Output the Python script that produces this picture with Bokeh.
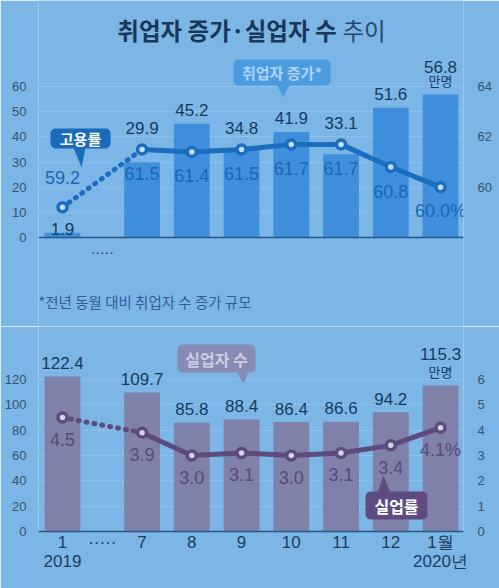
from bokeh.plotting import figure
from bokeh.layouts import column
from bokeh.models import Range1d, LinearAxis, FixedTicker, Span
from bokeh.core.properties import value
from bokeh.embed import file_html
from bokeh.resources import INLINE

# ---- data -------------------------------------------------------------
months = ["1", "7", "8", "9", "10", "11", "12", "1월"]
years = ["2019", "", "", "", "", "", "", "2020년"]
emp_increase = [1.9, 29.9, 45.2, 34.8, 41.9, 33.1, 51.6, 56.8]    # 만명
emp_rate = [59.2, 61.5, 61.4, 61.5, 61.7, 61.7, 60.8, 60.0]        # %
unemployed = [122.4, 109.7, 85.8, 88.4, 86.4, 86.6, 94.2, 115.3]   # 만명
unemp_rate = [4.5, 3.9, 3.0, 3.1, 3.0, 3.1, 3.4, 4.1]              # %

top_left_ticks = [0, 10, 20, 30, 40, 50, 60]
top_right_ticks = [60, 62, 64]
bottom_left_ticks = [0, 20, 40, 60, 80, 100, 120]
bottom_right_ticks = [0, 1, 2, 3, 4, 5, 6]

title_main = "취업자 증가·실업자 수"
title_tail = "추이"
footnote = "*전년 동월 대비 취업자 수 증가 규모"
unit = "만명"
break_mark = "·····"

# ---- style ------------------------------------------------------------
BG = "#7bb6e6"
BAR_TOP = "#3f8fdc"
LINE_TOP = "#1b6dbf"
FILL_TOP = "#c4def5"
LAB_TOP = "#1a67b4"
BAR_BOT = "#7f81a8"
LINE_BOT = "#5d4b7e"
FILL_BOT = "#d3d2ea"
LAB_BOT = "#584a7c"
BAR_LAB = "#163a5f"
GRID = "#a2cdf0"
TICK_LAB = "#34546f"
NUM = "Liberation Sans, Arial, sans-serif"
KR = "Noto Sans CJK KR"

# ---- geometry ---------------------------------------------------------
W = 499
TOP_H = 326
BOT_H = 262
FRAME_L, FRAME_R = 38, 463
STEP_PX = 49.74          # px between neighbouring months
X0_PX = 62               # px of the first month
GAP = 1.6                # wider step across the "·····" break
xs = [0.0] + [round(GAP + i, 1) for i in range(len(months) - 1)]
gap_x = round(GAP / 2, 1)
x_start = -(X0_PX - FRAME_L) / STEP_PX
x_end = (FRAME_R - X0_PX) / STEP_PX

BASE_TOP = 237           # px of the zero line, upper chart
K1 = 151 / 60            # px per 만명, upper chart
BASE_BOT = 531           # px of the zero line, lower chart (page coords)
K2 = 152 / 120           # px per 만명, lower chart


def tx(px):
    return (px - X0_PX) / STEP_PX


def ty(py):
    return (BASE_TOP - py) / K1


def by(py):
    return (BASE_BOT - py) / K2


def style_axis(ax, size):
    ax.axis_line_color = None
    ax.major_tick_line_color = None
    ax.minor_tick_line_color = None
    ax.major_label_text_color = TICK_LAB
    ax.major_label_text_font = NUM
    ax.major_label_text_font_size = size


def callout(p, fx, fy, box, tri, text, fill, color, size):
    x0, y0, x1, y1 = box
    p.quad(left=[fx(x0)], right=[fx(x1)], top=[fy(y0)], bottom=[fy(y1)],
           fill_color=fill, line_color=None, border_radius=5)
    p.patch([fx(a) for a, b in tri], [fy(b) for a, b in tri],
            fill_color=fill, line_color=None)
    p.text(x=[fx((x0 + x1) / 2)], y=[fy((y0 + y1) / 2)], text=[text],
           text_font=value(KR), text_font_style="bold", text_font_size=size,
           text_color=color, text_align="center", text_baseline="middle")


# ---- upper chart: employment increase + employment rate ---------------
rate_lo = 58 + ty(TOP_H) / 10
rate_hi = 58 + ty(0) / 10

top = figure(width=W, height=TOP_H, x_range=Range1d(x_start, x_end),
             y_range=Range1d(ty(TOP_H), ty(0)), x_axis_location=None,
             toolbar_location=None, output_backend="svg",
             min_border_left=FRAME_L, min_border_right=W - FRAME_R,
             min_border_top=0, min_border_bottom=0,
             background_fill_color=BG, border_fill_color=BG,
             outline_line_color=None)
top.extra_y_ranges = {"rate": Range1d(rate_lo, rate_hi)}
top.yaxis.ticker = FixedTicker(ticks=top_left_ticks)
style_axis(top.yaxis[0], "13px")
top.yaxis.major_label_standoff = 6
right_top = LinearAxis(y_range_name="rate", ticker=FixedTicker(ticks=top_right_ticks))
style_axis(right_top, "13px")
right_top.major_label_standoff = 8
top.add_layout(right_top, "right")
top.xgrid.visible = False
top.ygrid.ticker = FixedTicker(ticks=top_left_ticks[1:])
top.ygrid.grid_line_color = GRID
top.ygrid.grid_line_dash = "2 2"
top.ygrid.grid_line_width = 1

top.vbar(x=xs, top=emp_increase, width=0.72, fill_color=BAR_TOP, line_color=None)
top.add_layout(Span(location=0, dimension="width", line_color="#27568a", line_width=1.5))

top.line(xs[:2], emp_rate[:2], y_range_name="rate", line_color=LINE_TOP,
         line_width=5, line_dash="1 7", line_cap="round")
top.line(xs[1:], emp_rate[1:], y_range_name="rate", line_color=LINE_TOP,
         line_width=5, line_join="round")
top.scatter(xs, emp_rate, y_range_name="rate", size=9, fill_color=FILL_TOP,
            line_color=LINE_TOP, line_width=3.5)

last = len(xs) - 1
bar_y, line_y = [], []
for i, (v, r) in enumerate(zip(emp_increase, emp_rate)):
    m = (r - 58) * 10
    if i == 0:
        bar_y.append(v + 4 / K1)
        line_y.append(m + 30 / K1)
    elif i == last:
        bar_y.append(v + 28 / K1)
        line_y.append(m - 24 / K1)
    else:
        bar_y.append(max(v + 14 / K1, m + 21 / K1))
        line_y.append(m - 24 / K1)

top.text(x=xs, y=bar_y, text=[f"{v:.1f}" for v in emp_increase],
         text_font=value(NUM), text_font_size="17px", text_color=BAR_LAB,
         text_align="center", text_baseline="middle")
top.text(x=[xs[last]], y=[emp_increase[last] + 14 / K1], text=[unit],
         text_font=value(KR), text_font_size="13px", text_color=BAR_LAB,
         text_align="center", text_baseline="middle")
rate_txt = [f"{r:.1f}" for r in emp_rate]
rate_txt[last] += "%"
top.text(x=xs, y=line_y, text=rate_txt, text_font=value(NUM),
         text_font_size="18px", text_color=LAB_TOP,
         text_align="center", text_baseline="middle")
top.text(x=[gap_x], y=[ty(251)], text=[break_mark], text_font=value(NUM),
         text_font_size="14px", text_color=BAR_LAB,
         text_align="center", text_baseline="middle")

# title and note
top.text(x=[tx(336)], y=[ty(29)], text=[title_main], text_font=value(KR),
         text_font_style="bold", text_font_size="23.5px", text_color="#1a3658",
         text_align="right", text_baseline="middle")
top.text(x=[tx(342)], y=[ty(29)], text=[title_tail], text_font=value(KR),
         text_font_size="23.5px", text_color="#26476c",
         text_align="left", text_baseline="middle")
top.text(x=[tx(38)], y=[ty(301)], text=[footnote], text_font=value(KR),
         text_font_size="14.5px", text_color="#30608f",
         text_align="left", text_baseline="middle")

callout(top, tx, ty, (50, 128, 110, 148), [(73, 147), (85, 147), (81, 167)],
        "고용률", "#1b6bbc", "#ffffff", "15px")
callout(top, tx, ty, (233, 59, 330, 85), [(276, 84), (289, 84), (283, 97)],
        "취업자 증가*", "#4b9be1", "#aed3f3", "15px")

# ---- lower chart: unemployed + unemployment rate ----------------------
bot_top_val = by(326)
bot = figure(width=W, height=BOT_H, x_range=Range1d(x_start, x_end),
             y_range=Range1d(0, bot_top_val), toolbar_location=None,
             output_backend="svg",
             min_border_left=FRAME_L, min_border_right=W - FRAME_R,
             min_border_top=0, min_border_bottom=588 - BASE_BOT,
             background_fill_color=BG, border_fill_color=BG,
             outline_line_color=None)
bot.extra_y_ranges = {"rate": Range1d(0, bot_top_val / 20)}
bot.yaxis.ticker = FixedTicker(ticks=bottom_left_ticks)
style_axis(bot.yaxis[0], "13px")
bot.yaxis.major_label_standoff = 6
right_bot = LinearAxis(y_range_name="rate", ticker=FixedTicker(ticks=bottom_right_ticks))
style_axis(right_bot, "13px")
right_bot.major_label_standoff = 8
bot.add_layout(right_bot, "right")

xa = bot.xaxis[0]
xa.ticker = FixedTicker(ticks=[xs[0], gap_x] + xs[1:])
labels = {xs[0]: f"{months[0]}\n{years[0]}", gap_x: break_mark}
for x, mth, yr in zip(xs[1:], months[1:], years[1:]):
    labels[x] = f"{mth}\n{yr}" if yr else mth
xa.major_label_overrides = labels
xa.axis_line_color = "#27568a"
xa.axis_line_width = 1.5
xa.major_tick_line_color = None
xa.minor_tick_line_color = None
xa.major_tick_out = 0
xa.major_tick_in = 0
xa.major_label_standoff = 1
xa.major_label_text_font = NUM
xa.major_label_text_font_size = "17px"
xa.major_label_text_line_height = 1.05
xa.major_label_text_color = "#1c3c62"

bot.xgrid.visible = False
bot.ygrid.ticker = FixedTicker(ticks=bottom_left_ticks[1:])
bot.ygrid.grid_line_color = GRID
bot.ygrid.grid_line_dash = "2 2"
bot.ygrid.grid_line_width = 1

bot.vbar(x=xs, top=unemployed, width=0.72, fill_color=BAR_BOT, line_color=None)
bot.line(xs[:2], unemp_rate[:2], y_range_name="rate", line_color=LINE_BOT,
         line_width=5, line_dash="1 7", line_cap="round")
bot.line(xs[1:], unemp_rate[1:], y_range_name="rate", line_color=LINE_BOT,
         line_width=5, line_join="round")
bot.scatter(xs, unemp_rate, y_range_name="rate", size=9, fill_color=FILL_BOT,
            line_color=LINE_BOT, line_width=3.5)

ub_y = [v + (31 if i == last else 13.5) / K2 for i, v in enumerate(unemployed)]
bot.text(x=xs, y=ub_y, text=[f"{v:.1f}" for v in unemployed],
         text_font=value(NUM), text_font_size="17px", text_color=BAR_LAB,
         text_align="center", text_baseline="middle")
bot.text(x=[xs[last]], y=[unemployed[last] + 14 / K2], text=[unit],
         text_font=value(KR), text_font_size="13px", text_color=BAR_LAB,
         text_align="center", text_baseline="middle")
ur_txt = [f"{r:.1f}" for r in unemp_rate]
ur_txt[last] += "%"
bot.text(x=xs, y=[r * 20 - 22 / K2 for r in unemp_rate], text=ur_txt,
         text_font=value(NUM), text_font_size="18px", text_color=LAB_BOT,
         text_align="center", text_baseline="middle")

callout(bot, tx, by, (177, 344, 255, 372), [(236, 371), (248, 371), (243, 383)],
        "실업자 수", "#888bb3", "#c9cde8", "16px")
callout(bot, tx, by, (365, 491, 427, 519), [(377, 492), (390, 492), (383, 475)],
        "실업률", "#5e4c80", "#ffffff", "16px")

layout = column(top, bot, spacing=0)
open("out.html", "w").write(file_html(layout, INLINE))
